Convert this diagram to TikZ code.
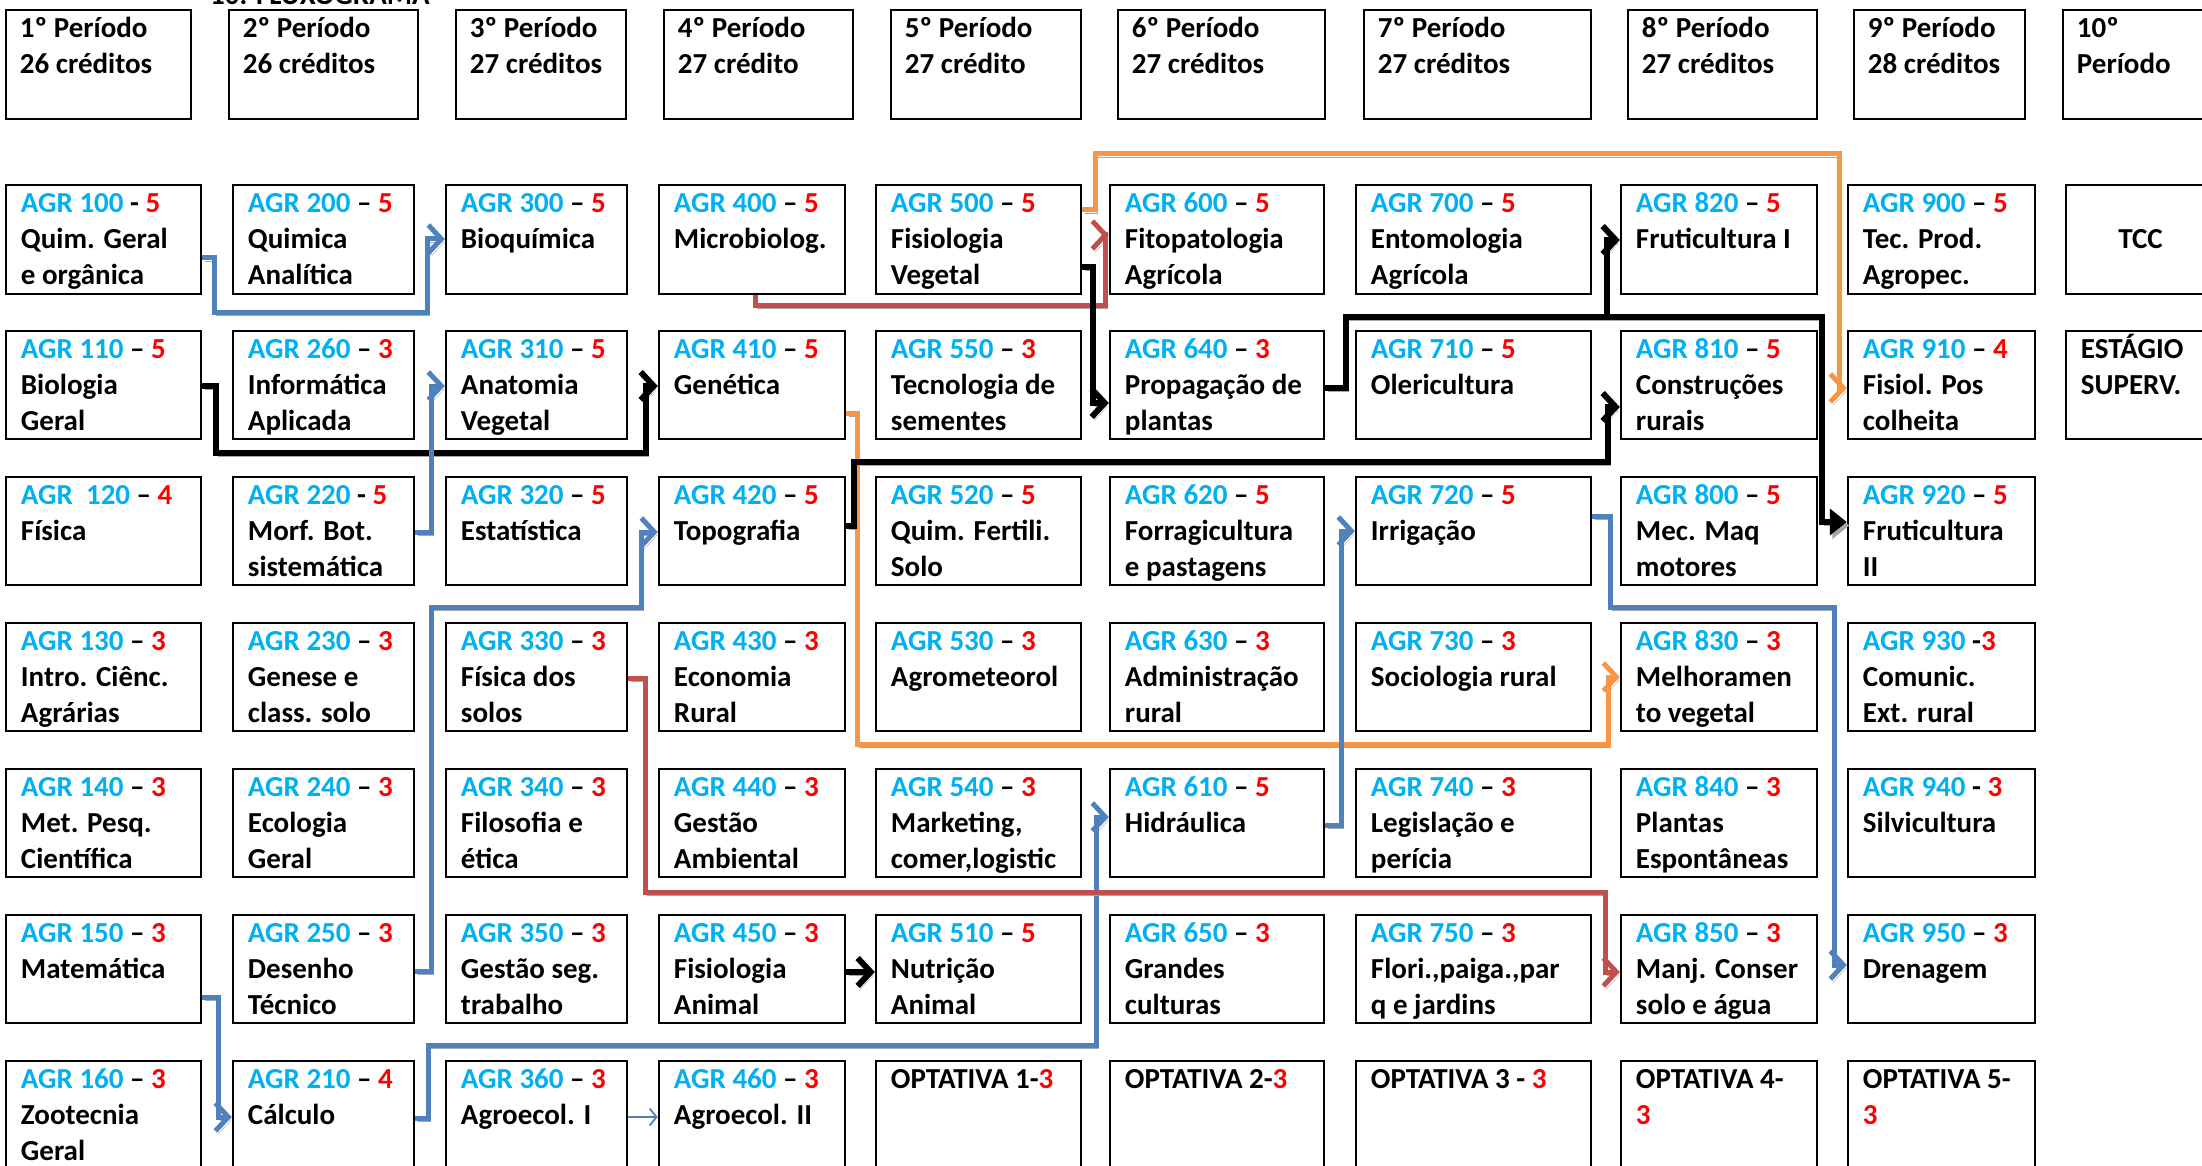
\documentclass[tikz,border=0pt]{standalone}
\usepackage{fontspec}
\setmainfont{Carlito}
\usetikzlibrary{arrows.meta}
\definecolor{agrblue}{HTML}{00B0F0}
\definecolor{numred}{HTML}{FF0000}
\definecolor{lblue}{HTML}{4F81BD}
\definecolor{lred}{HTML}{C0504D}
\definecolor{lorange}{HTML}{F79646}
\definecolor{shadowgray}{HTML}{A6A6A6}
\newcommand\cfont{\fontsize{29}{36}\selectfont\bfseries}
\newcommand\code[3]{\textcolor{agrblue}{AGR #1}#2\textcolor{numred}{#3}}
\def\colL{{6,233,446,659,876,1110,1356,1621,1848,2066}}
\def\colR{{201,414,627,845,1081,1324,1591,1817,2035,2215}}
\def\rowT{{185,331,477,623,769,915,1061}}
\def\rowB{{294,439,585,731,877,1023,1172}}
\def\hL{{6,229,456,664,891,1118,1364,1628,1854,2063}}
\def\hR{{191,418,626,853,1081,1325,1591,1817,2025,2215}}
\newcommand\course[4]{%
  \pgfmathsetmacro\xa{\colL[#2-1]}%
  \pgfmathsetmacro\xb{\colR[#2-1]}%
  \pgfmathsetmacro\ya{\rowT[#3-1]}%
  \pgfmathsetmacro\yb{\rowB[#3-1]}%
  \node[cbox, minimum width=\xb pt-\xa pt, minimum height=\yb pt-\ya pt] (#1) at ({(\xa+\xb)/2},{(\ya+\yb)/2}) {};%
  \node[ctext] (#1t) at ([shift={(16,3)}]#1.north west) {\strut#4};%
}
\newcommand\period[3]{%
  \pgfmathsetmacro\xa{\hL[#2-1]}%
  \pgfmathsetmacro\xb{\hR[#2-1]}%
  \node[cbox, minimum width=\xb pt-\xa pt, minimum height=109pt] (#1) at ({(\xa+\xb)/2},64.5) {};%
  \node[ctext] (#1t) at ([shift={(15,3)}]#1.north west) {\strut#3};%
}
\begin{document}
\begin{tikzpicture}[x=1pt,y=-1pt,
  cbox/.style={draw, line width=2.5pt, inner sep=0pt, anchor=center},
  ctext/.style={anchor=north west, inner sep=0pt, align=left, font=\cfont},
  conn/.style={line width=5pt, line join=miter, preaction={draw=shadowgray, transform canvas={shift={(2.5pt,-3.5pt)}}}},
  barb/.style={-{Straight Barb[length=13pt,width=28pt]}},
  bconn/.style={conn, draw=lblue, barb},
  rconn/.style={conn, draw=lred, barb},
  oconn/.style={conn, draw=lorange, barb},
  kconn/.style={conn, draw=black, line width=6pt, barb},
  kfill/.style={conn, draw=black, line width=6pt, -{Triangle[length=17pt,width=26pt]}},
  thinconn/.style={draw=lblue, line width=1.8pt, -{Straight Barb[length=7pt,width=17pt]}}
]
\useasboundingbox (0,0) rectangle (2202,1166);
\begin{scope}
\clip (0,0) rectangle (2202,1166);
\node[anchor=base west, inner sep=0pt, font=\cfont] (title) at (210,5) {10. FLUXOGRAMA};
\end{scope}

% header
\period{h1}{1}{1º Período\\26 créditos}
\period{h2}{2}{2º Período\\26 créditos}
\period{h3}{3}{3º Período\\27 créditos}
\period{h4}{4}{4º Período\\27 crédito}
\period{h5}{5}{5º Período\\27 crédito}
\period{h6}{6}{6º Período\\27 créditos}
\period{h7}{7}{7º Período\\27 créditos}
\period{h8}{8}{8º Período\\27 créditos}
\period{h9}{9}{9º Período\\28 créditos}
\period{h10}{10}{10º\\Período}

% row 1
\course{c100}{1}{1}{\code{100}{ - }{5}\\Quim. Geral\\e orgânica}
\course{c200}{2}{1}{\code{200}{ – }{5}\\Quimica\\Analítica}
\course{c300}{3}{1}{\code{300}{ – }{5}\\Bioquímica}
\course{c400}{4}{1}{\code{400}{ – }{5}\\Microbiolog.}
\course{c500}{5}{1}{\code{500}{ – }{5}\\Fisiologia\\Vegetal}
\course{c600}{6}{1}{\code{600}{ – }{5}\\Fitopatologia\\Agrícola}
\course{c700}{7}{1}{\code{700}{ – }{5}\\Entomologia\\Agrícola}
\course{c820}{8}{1}{\code{820}{ – }{5}\\Fruticultura I}
\course{c900}{9}{1}{\code{900}{ – }{5}\\Tec. Prod.\\Agropec.}
\node[cbox, minimum width=149pt, minimum height=109pt] (tcc) at (2140.5,239.5) {};
\node[font=\cfont, inner sep=0pt] (tcct) at (tcc.center) {TCC};

% row 2
\course{c110}{1}{2}{\code{110}{ – }{5}\\Biologia\\Geral}
\course{c260}{2}{2}{\code{260}{ – }{3}\\Informática\\Aplicada}
\course{c310}{3}{2}{\code{310}{ – }{5}\\Anatomia\\Vegetal}
\course{c410}{4}{2}{\code{410}{ – }{5}\\Genética}
\course{c550}{5}{2}{\code{550}{ – }{3}\\Tecnologia de\\sementes}
\course{c640}{6}{2}{\code{640}{ – }{3}\\Propagação de\\plantas}
\course{c710}{7}{2}{\code{710}{ – }{5}\\Olericultura}
\course{c810}{8}{2}{\code{810}{ – }{5}\\Construções\\rurais}
\course{c910}{9}{2}{\code{910}{ – }{4}\\Fisiol. Pos\\colheita}
\course{est}{10}{2}{ESTÁGIO\\SUPERV.}

% row 3
\course{c120}{1}{3}{\code{\ 120}{ – }{4}\\Física}
\course{c220}{2}{3}{\code{220}{ - }{5}\\Morf. Bot.\\sistemática}
\course{c320}{3}{3}{\code{320}{ – }{5}\\Estatística}
\course{c420}{4}{3}{\code{420}{ – }{5}\\Topografia}
\course{c520}{5}{3}{\code{520}{ – }{5}\\Quim. Fertili.\\Solo}
\course{c620}{6}{3}{\code{620}{ – }{5}\\Forragicultura\\e pastagens}
\course{c720}{7}{3}{\code{720}{ – }{5}\\Irrigação}
\course{c800}{8}{3}{\code{800}{ – }{5}\\Mec. Maq\\motores}
\course{c920}{9}{3}{\code{920}{ – }{5}\\Fruticultura\\II}

% row 4
\course{c130}{1}{4}{\code{130}{ – }{3}\\Intro. Ciênc.\\Agrárias}
\course{c230}{2}{4}{\code{230}{ – }{3}\\Genese e\\class. solo}
\course{c330}{3}{4}{\code{330}{ – }{3}\\Física dos\\solos}
\course{c430}{4}{4}{\code{430}{ – }{3}\\Economia\\Rural}
\course{c530}{5}{4}{\code{530}{ – }{3}\\Agrometeorol}
\course{c630}{6}{4}{\code{630}{ – }{3}\\Administração\\rural}
\course{c730}{7}{4}{\code{730}{ – }{3}\\Sociologia rural}
\course{c830}{8}{4}{\code{830}{ – }{3}\\Melhoramen\\to vegetal}
\course{c930}{9}{4}{\code{930}{ -}{3}\\Comunic.\\Ext. rural}

% row 5
\course{c140}{1}{5}{\code{140}{ – }{3}\\Met. Pesq.\\Científica}
\course{c240}{2}{5}{\code{240}{ – }{3}\\Ecologia\\Geral}
\course{c340}{3}{5}{\code{340}{ – }{3}\\Filosofia e\\ética}
\course{c440}{4}{5}{\code{440}{ – }{3}\\Gestão\\Ambiental}
\course{c540}{5}{5}{\code{540}{ – }{3}\\Marketing,\\comer,logistic}
\course{c610}{6}{5}{\code{610}{ – }{5}\\Hidráulica}
\course{c740}{7}{5}{\code{740}{ – }{3}\\Legislação e\\perícia}
\course{c840}{8}{5}{\code{840}{ – }{3}\\Plantas\\Espontâneas}
\course{c940}{9}{5}{\code{940}{ - }{3}\\Silvicultura}

% row 6
\course{c150}{1}{6}{\code{150}{ – }{3}\\Matemática}
\course{c250}{2}{6}{\code{250}{ – }{3}\\Desenho\\Técnico}
\course{c350}{3}{6}{\code{350}{ – }{3}\\Gestão seg.\\trabalho}
\course{c450}{4}{6}{\code{450}{ – }{3}\\Fisiologia\\Animal}
\course{c510}{5}{6}{\code{510}{ – }{5}\\Nutrição\\Animal}
\course{c650}{6}{6}{\code{650}{ – }{3}\\Grandes\\culturas}
\course{c750}{7}{6}{\code{750}{ – }{3}\\Flori.,paiga.,par\\q e jardins}
\course{c850}{8}{6}{\code{850}{ – }{3}\\Manj. Conser\\solo e água}
\course{c950}{9}{6}{\code{950}{ – }{3}\\Drenagem}

% row 7
\course{c160}{1}{7}{\code{160}{ – }{3}\\Zootecnia\\Geral}
\course{c210}{2}{7}{\code{210}{ – }{4}\\Cálculo}
\course{c360}{3}{7}{\code{360}{ – }{3}\\Agroecol. I}
\course{c460}{4}{7}{\code{460}{ – }{3}\\Agroecol. II}
\course{op1}{5}{7}{OPTATIVA 1-\textcolor{numred}{3}}
\course{op2}{6}{7}{OPTATIVA 2-\textcolor{numred}{3}}
\course{op3}{7}{7}{OPTATIVA 3 - \textcolor{numred}{3}}
\course{op4}{8}{7}{OPTATIVA 4-\\\textcolor{numred}{3}}
\course{op5}{9}{7}{OPTATIVA 5-\\\textcolor{numred}{3}}

% connectors
\draw[bconn] (c100.east |- 0,258) -- (214,258) -- (214,312) -- (427,312) -- (427,239) -- (c300.west |- 0,239);
\draw[kconn] (c110.east |- 0,386) -- (216,386) -- (216,453) -- (646,453) -- (646,386) -- (c410.west |- 0,386);
\draw[bconn] (c220.east |- 0,532) -- (431,532) -- (431,386) -- (c310.west |- 0,386);
\draw[bconn] (c250.east |- 0,971) -- (431,971) -- (431,607) -- (641,607) -- (641,532) -- (c420.west |- 0,532);
\draw[bconn] (c150.east |- 0,997) -- (218,997) -- (218,1117) -- (c210.west |- 0,1117);
\draw[bconn] (c210.east |- 0,1118) -- (428,1118) -- (428,1045) -- (1096,1045) -- (1096,817) -- (c610.west |- 0,817);
\draw[thinconn] (c360.east |- 0,1117) -- (c460.west |- 0,1117);
\draw[kconn] (c450.east |- 0,972) -- (c510.west |- 0,972);
\draw[rconn] (c400.south -| 755,0) -- (755,305) -- (1105,305) -- (1105,235) -- (c600.west |- 0,235);
\draw[oconn] (c500.east |- 0,210) -- (1095,210) -- (1095,154) -- (1839,154) -- (1839,388) -- (c910.west |- 0,388);
\draw[kconn] (c500.east |- 0,267) -- (1093,267) -- (1093,403) -- (c640.west |- 0,403);
\draw[kconn] (c640.east |- 0,388) -- (1346,388) -- (1346,317) -- (1607,317) -- (1607,240) -- (c820.west |- 0,240);
\draw[kfill] (c640.east |- 0,388) -- (1346,388) -- (1346,317) -- (1822,317) -- (1822,522) -- (c920.west |- 0,522);
\draw[oconn] (c410.east |- 0,413) -- (857,413) -- (857,744) -- (1608,744) -- (1608,677) -- (c830.west |- 0,677);
\draw[kconn] (c420.east |- 0,526) -- (854,526) -- (854,462) -- (1608,462) -- (1608,407) -- (c810.west |- 0,407);
\draw[rconn] (c330.east |- 0,678) -- (645,678) -- (645,892) -- (1605,892) -- (1605,972) -- (c850.west |- 0,972);
\draw[bconn] (c610.east |- 0,825) -- (1341,825) -- (1341,531) -- (c720.west |- 0,531);
\draw[bconn] (c720.east |- 0,516) -- (1610,516) -- (1610,607) -- (1834,607) -- (1834,965) -- (c950.west |- 0,965);
\end{tikzpicture}
\end{document}
